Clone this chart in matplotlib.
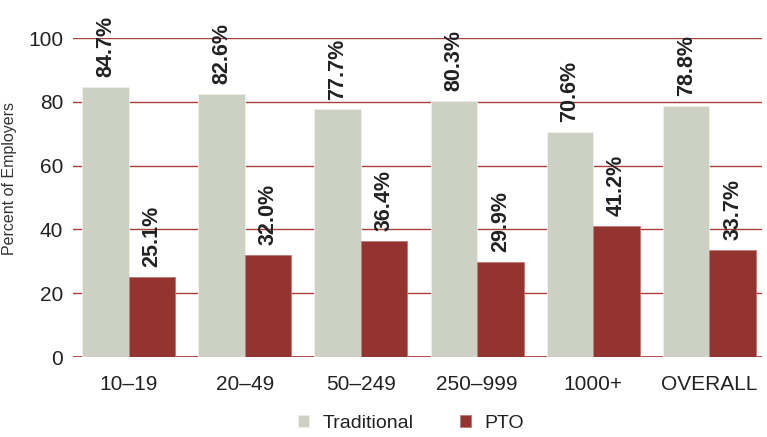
import matplotlib
matplotlib.use('Agg')
import matplotlib.pyplot as plt
import numpy as np

# employer size groups and share offering each plan type
categories = ['10–19', '20–49', '50–249', '250–999', '1000+', 'OVERALL']
traditional = [84.7, 82.6, 77.7, 80.3, 70.6, 78.8]
pto = [25.1, 32.0, 36.4, 29.9, 41.2, 33.7]
y_ticks = [0, 20, 40, 60, 80, 100]

TRAD_COLOR = '#cdd1c4'
PTO_COLOR = '#943430'
GRID_COLOR = '#a8403c'
TEXT_COLOR = '#222222'

plt.rcParams['font.family'] = ['Liberation Sans', 'DejaVu Sans']

fig = plt.figure(figsize=(7.67, 4.37), dpi=100)
ax = fig.add_axes([0.095, 0.183, 0.898, 0.730])

x = np.arange(len(categories))
width = 0.4

# horizontal guide lines sit behind the bars
for t in y_ticks:
    ax.axhline(t, color=GRID_COLOR, linewidth=1.3 if t == 0 else 1.0, zorder=1)

b1 = ax.bar(x - width / 2, traditional, width, color=TRAD_COLOR,
            edgecolor='#eef0ea', linewidth=0.6, zorder=2, label='Traditional')
b2 = ax.bar(x + width / 2, pto, width, color=PTO_COLOR,
            edgecolor='#c07a76', linewidth=0.6, zorder=2, label='PTO')

# value labels, rotated, above each bar
for bars, vals in ((b1, traditional), (b2, pto)):
    for bar, v in zip(bars, vals):
        ax.text(bar.get_x() + bar.get_width() / 2, v + 3.0, f'{v:.1f}%',
                rotation=90, ha='center', va='bottom', fontsize=15.5,
                fontweight='bold', color=TEXT_COLOR, clip_on=False)

ax.set_xlim(-0.48, 5.45)
ax.set_ylim(0, 100)
ax.set_yticks(y_ticks)
ax.set_xticks(x)
ax.set_xticklabels(categories, fontsize=15, color=TEXT_COLOR)
ax.tick_params(axis='y', labelsize=15, colors=TEXT_COLOR, length=0, pad=7)
ax.tick_params(axis='x', length=0, pad=13)
for s in ax.spines.values():
    s.set_visible(False)

ax.set_ylabel('Percent of Employers', fontsize=11.5, color='#333333')
ax.yaxis.set_label_coords(-0.081, 0.56)

fig.legend(handles=[b1, b2], loc='center', bbox_to_anchor=(0.536, 0.031),
           ncol=2, frameon=False, fontsize=14, handlelength=0.55,
           handleheight=0.55, columnspacing=2.4, handletextpad=0.7,
           labelcolor=TEXT_COLOR)

fig.savefig('out.png', dpi=100)
